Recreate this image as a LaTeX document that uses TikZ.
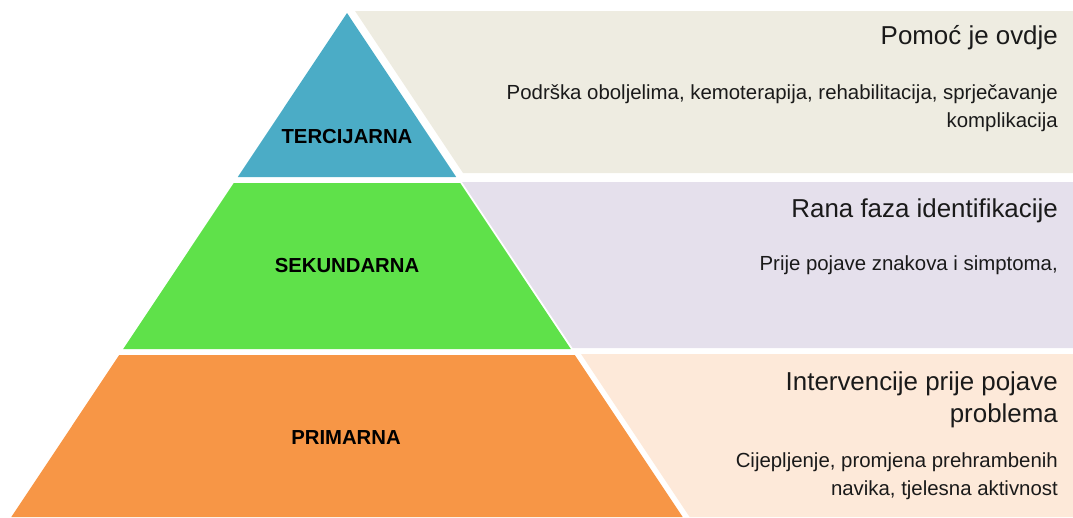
\documentclass[tikz,border=0pt]{standalone}
\usepackage{fontspec}
\setmainfont{Liberation Sans}
\definecolor{tercblue}{HTML}{4BACC6}
\definecolor{sekgreen}{HTML}{5FE14A}
\definecolor{primorange}{HTML}{F79646}
\definecolor{bandgray}{HTML}{EEECE1}
\definecolor{bandlilac}{HTML}{E5E0EC}
\definecolor{bandpeach}{HTML}{FDE9D9}
\definecolor{textdark}{HTML}{1A1A1A}

\begin{document}
\begin{tikzpicture}[x=1pt,y=-1pt]
\tikzstyle{level}=[font=\bfseries\fontsize{20.3}{24}\selectfont,text=black,inner sep=0pt]
\tikzstyle{head}=[anchor=base east,align=right,inner sep=0pt,text=textdark,font=\fontsize{25.9}{32}\selectfont]
\tikzstyle{sub}=[anchor=base east,align=right,inner sep=0pt,text=textdark,font=\fontsize{20.4}{27.5}\selectfont]
\useasboundingbox (0,0) rectangle (1073,517);
% bands on the right
\fill[bandgray] (355,11) -- (1073,11) -- (1073,173) -- (463,173) -- cycle;
\fill[bandlilac] (462,182) -- (1073,182) -- (1073,348) -- (572.6,348) -- cycle;
\fill[bandpeach] (581,354) -- (1073,354) -- (1073,517) -- (689.6,517) -- cycle;
% pyramid
\fill[tercblue] (347,13) -- (456.2,177) -- (237.8,177) -- cycle;
\fill[sekgreen] (233.8,183) -- (460.2,183) -- (570.8,349) -- (123.2,349) -- cycle;
\fill[primorange] (119.2,355) -- (574.8,355) -- (682.7,517) -- (11.3,517) -- cycle;
\node[level] (terc) at (347,137) {TERCIJARNA};
\node[level] (sek) at (347,266) {SEKUNDARNA};
\node[level] (prim) at (346,438) {PRIMARNA};
% texts (base = last line)
\node[head] (pomoc) at (1058,44) {Pomoć je ovdje};
\node[sub] (podrska) at (1058,127) {Podrška oboljelima, kemoterapija, rehabilitacija, sprječavanje\\komplikacija};
\node[head] (rana) at (1058,217) {Rana faza identifikacije};
\node[sub] (prije) at (1058,270) {Prije pojave znakova i simptoma,};
\node[head] (interv) at (1058,422) {Intervencije prije pojave\\problema};
\node[sub] (cijep) at (1058,495) {Cijepljenje, promjena prehrambenih\\navika, tjelesna aktivnost};
\end{tikzpicture}
\end{document}
